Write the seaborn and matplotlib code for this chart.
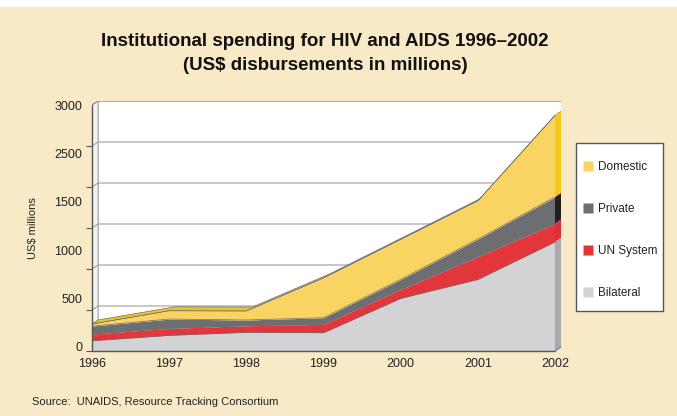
import numpy as np
import pandas as pd
import matplotlib
matplotlib.use("Agg")
import matplotlib.pyplot as plt
from matplotlib import font_manager
from matplotlib.lines import Line2D
from matplotlib.patches import Polygon, Rectangle
import seaborn as sns

# ---- data (US$ millions) ----
years = [1996, 1997, 1998, 1999, 2000, 2001, 2002]
bilateral = [125, 191, 228, 223, 642, 873, 1331]
un_system = [82, 85, 80, 102, 109, 277, 224]
private = [97, 114, 70, 81, 122, 215, 324]
domestic = [25, 100, 109, 484, 487, 466, 995]

series_names = ["Bilateral", "UN System", "Private", "Domestic"]
legend_order = ["Domestic", "Private", "UN System", "Bilateral"]

y_tick_values = [0, 500, 1000, 1500, 2000, 2500, 3000]
y_label_texts = ["0", "500", "1000", "1500", "2500", "3000"]

# ---- styling ----
BG = "#F8EAC6"
front_colors = {"Bilateral": "#D1D3D4", "UN System": "#E2363B",
                "Private": "#6D6E71", "Domestic": "#FAD462"}
side_colors = {"Bilateral": "#A7A9AC", "UN System": "#D9303A",
               "Private": "#231F20", "Domestic": "#F7C81A"}
TOP_FACE = "#F2C21E"
EDGE = "#6E6E6E"
DX, DY = 0.078, 49          # depth offset of the pseudo-3D box
label_pos = [50, 640, 1230, 1820, 2410, 3000]

sns.set_theme(style="white")
available = {f.name for f in font_manager.fontManager.ttflist}
narrow = "Liberation Sans Narrow" if "Liberation Sans Narrow" in available else "Liberation Sans"
plt.rcParams["font.family"] = [narrow, "DejaVu Sans"]

W, H = 677, 416
fig = plt.figure(figsize=(W / 100, H / 100), dpi=100, facecolor=BG)
fig.patches.append(Rectangle((0, 1 - 7 / H), 1, 7 / H, transform=fig.transFigure,
                             facecolor="white", edgecolor="none", zorder=0))
ax = fig.add_axes([92 / W, 65 / H, (561 - 92) / W, (351 - 101) / H])
ax.set_facecolor("none")
x0, x1 = years[0], years[-1]
ax.set_xlim(x0, x1 + DX)
ax.set_ylim(0, 3000 + DY)
for s in ax.spines.values():
    s.set_visible(False)

# back wall and left wall of the box
ax.add_patch(Rectangle((x0 + DX, DY), x1 - x0, 3000, facecolor="white",
                       edgecolor="#B5B5B5", lw=0.8, zorder=0))
ax.add_patch(Polygon([(x0, 0), (x0 + DX, DY), (x0 + DX, 3000 + DY), (x0, 3000)],
                     closed=True, facecolor="#F3F3F3", edgecolor="#B5B5B5",
                     lw=0.8, zorder=0))
for v in y_tick_values[1:]:
    ax.plot([x0, x0 + DX, x1 + DX], [v, v + DY, v + DY], color="#A8A8A8",
            lw=0.9, zorder=1, solid_capstyle="butt")

# long-form table and stacked bounds
layers = {"Bilateral": bilateral, "UN System": un_system,
          "Private": private, "Domestic": domestic}
rows = []
for name in series_names:
    for yr, val in zip(years, layers[name]):
        rows.append({"year": yr, "series": name, "value": val})
df = pd.DataFrame(rows)
df["series"] = pd.Categorical(df["series"], series_names, ordered=True)
df = df.sort_values(["year", "series"])
df["top"] = df.groupby("year")["value"].cumsum()
df["bottom"] = df["top"] - df["value"]

xs = np.array(years, dtype=float)
total = df[df["series"] == "Domestic"].sort_values("year")["top"].to_numpy()

# top face of the stack seen in depth
top_poly = list(zip(xs, total)) + list(zip(xs[::-1] + DX, total[::-1] + DY))
ax.add_patch(Polygon(top_poly, closed=True, facecolor=TOP_FACE,
                     edgecolor=EDGE, lw=0.5, zorder=2))

# front faces
for name in series_names:
    d = df[df["series"] == name].sort_values("year")
    ax.fill_between(d["year"], d["bottom"], d["top"], color=front_colors[name],
                    lw=0, zorder=3)
    # right-hand side face at the last year
    lo, hi = d["bottom"].iloc[-1], d["top"].iloc[-1]
    ax.add_patch(Polygon([(x1, lo), (x1 + DX, lo + DY), (x1 + DX, hi + DY), (x1, hi)],
                         closed=True, facecolor=side_colors[name], edgecolor="none",
                         zorder=3))

# thin outline along the layer boundaries
sns.lineplot(data=df, x="year", y="top", hue="series",
             palette={n: EDGE for n in series_names}, legend=False,
             lw=0.5, ax=ax, zorder=4)
ax.plot([x1 + DX, x1 + DX], [DY, total[-1] + DY], color="#8A8A8A", lw=0.6, zorder=4)

# front axis lines
ax.plot([x0, x0], [0, 3000], color="#555555", lw=1.0, zorder=5, clip_on=False)
ax.plot([x0, x1], [0, 0], color="#555555", lw=1.0, zorder=5, clip_on=False)
ax.plot([x1, x1 + DX], [0, DY], color="#888888", lw=0.8, zorder=5, clip_on=False)
ax.plot([x0, x0 + DX], [3000, 3000 + DY], color="#999999", lw=0.8, zorder=5)

# ticks
ax.set_xticks(years)
ax.set_xticklabels([str(y) for y in years])
ax.tick_params(axis="x", direction="in", length=3, width=0.8, color="#555555",
               pad=5, labelsize=9, labelcolor="#222222", bottom=True)
ax.set_yticks(label_pos)
ax.set_yticklabels(y_label_texts)
ax.set_yticks(y_tick_values, minor=True)
ax.tick_params(axis="y", which="major", length=0, pad=7, labelsize=9,
               labelcolor="#222222", left=True)
ax.tick_params(axis="y", which="minor", direction="out", length=4, width=0.8,
               color="#555555", left=True)
ax.grid(False)
ax.set_xlabel("")
ax.set_ylabel("")

fig.text(33 / W, 1 - 228 / H, "US$ millions", rotation=90, ha="center",
         va="center", fontsize=8, color="#222222")

title_font = ["Liberation Sans", "DejaVu Sans"]
fig.text(0.48, 1 - 42 / H, "Institutional spending for HIV and AIDS 1996\u20132002",
         ha="center", va="center", fontsize=13.5, fontweight="bold",
         family=title_font, color="#111111")
fig.text(0.48, 1 - 66 / H, "(US$ disbursements in millions)",
         ha="center", va="center", fontsize=13.5, fontweight="bold",
         family=title_font, color="#111111")
fig.text(32 / W, 1 - 402 / H, "Source:  UNAIDS, Resource Tracking Consortium",
         ha="left", va="center", fontsize=8, color="#222222")

# legend frame drawn as its own box, entries placed inside it
fig.patches.append(Rectangle((576 / W, 1 - 311 / H), (663 - 576) / W, (311 - 143) / H,
                             transform=fig.transFigure, facecolor="white",
                             edgecolor="#555555", lw=1.0, zorder=1))
handles = [Line2D([0], [0], marker="s", linestyle="none", markersize=7,
                  markerfacecolor=front_colors[n], markeredgecolor="none")
           for n in legend_order]
leg = fig.legend(handles, legend_order, loc="upper left",
                 bbox_to_anchor=(584 / W, 1 - 161 / H), frameon=False,
                 fontsize=8.5, labelspacing=2.55, handlelength=0.75,
                 handletextpad=0.45, borderpad=0, borderaxespad=0)
leg.set_zorder(2)
for t in leg.get_texts():
    t.set_color("#222222")

fig.savefig("out.png", dpi=100, facecolor=BG)
